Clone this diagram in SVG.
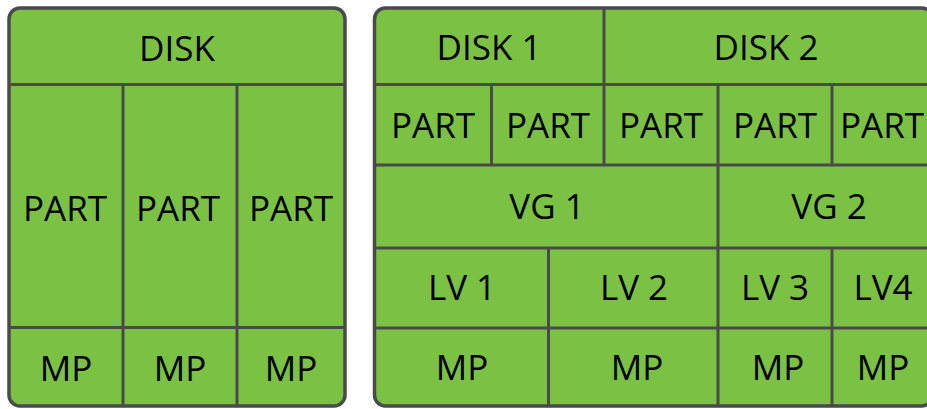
<svg xmlns="http://www.w3.org/2000/svg" width="927" height="409" viewBox="0 0 927 409">
<style>
.box{fill:#7bc143;stroke:#4a4a4a;stroke-width:3.5}
.ln{stroke:#4a4a4a;stroke-width:3;fill:none}
text{font-family:"Open Sans","Noto Sans",sans-serif;font-size:35px;fill:#000;text-anchor:middle}
</style>
<rect width="927" height="409" fill="#fff"/>
<g id="left-disk">
<rect class="box" x="9" y="8" width="336" height="398" rx="11"/>
<g id="left-grid">
<line class="ln" x1="9" y1="84.5" x2="345" y2="84.5"/>
<line class="ln" x1="9" y1="327.5" x2="345" y2="327.5"/>
<line class="ln" x1="123" y1="84.5" x2="123" y2="406"/>
<line class="ln" x1="237" y1="84.5" x2="237" y2="406"/>
</g>
<g id="l-disk"><text x="177" y="61">DISK</text></g>
<g id="l-part1"><text x="65" y="221">PART</text></g>
<g id="l-part2"><text x="178" y="221">PART</text></g>
<g id="l-part3"><text x="291" y="221">PART</text></g>
<g id="l-mp1"><text x="66" y="381">MP</text></g>
<g id="l-mp2"><text x="180" y="381">MP</text></g>
<g id="l-mp3"><text x="291" y="381">MP</text></g>
</g>
<g id="right-lvm">
<rect class="box" x="374.5" y="8" width="558" height="398" rx="11"/>
<g id="right-grid">
<line class="ln" x1="374.5" y1="84.5" x2="932" y2="84.5"/>
<line class="ln" x1="374.5" y1="165" x2="932" y2="165"/>
<line class="ln" x1="374.5" y1="248" x2="932" y2="248"/>
<line class="ln" x1="374.5" y1="328" x2="932" y2="328"/>
<line class="ln" x1="604" y1="8" x2="604" y2="165"/>
<line class="ln" x1="491.5" y1="84.5" x2="491.5" y2="165"/>
<line class="ln" x1="718" y1="84.5" x2="718" y2="406"/>
<line class="ln" x1="832" y1="84.5" x2="832" y2="165"/>
<line class="ln" x1="548.5" y1="248" x2="548.5" y2="406"/>
<line class="ln" x1="832" y1="248" x2="832" y2="406"/>
</g>
<g id="r-disk1"><text x="489" y="60">DISK 1</text></g>
<g id="r-disk2"><text x="766" y="60">DISK 2</text></g>
<g id="r-part1"><text x="433" y="138">PART</text></g>
<g id="r-part2"><text x="548" y="138">PART</text></g>
<g id="r-part3"><text x="661" y="138">PART</text></g>
<g id="r-part4"><text x="775" y="138">PART</text></g>
<g id="r-part5"><text x="882" y="138">PART</text></g>
<g id="r-vg1"><text x="547" y="219">VG 1</text></g>
<g id="r-vg2"><text x="829" y="219">VG 2</text></g>
<g id="r-lv1"><text x="462" y="300">LV 1</text></g>
<g id="r-lv2"><text x="634" y="300">LV 2</text></g>
<g id="r-lv3"><text x="775" y="300">LV 3</text></g>
<g id="r-lv4"><text x="883" y="300">LV4</text></g>
<g id="r-mp1"><text x="462" y="380">MP</text></g>
<g id="r-mp2"><text x="637" y="380">MP</text></g>
<g id="r-mp3"><text x="778" y="380">MP</text></g>
<g id="r-mp4"><text x="883" y="380">MP</text></g>
</g>
</svg>
